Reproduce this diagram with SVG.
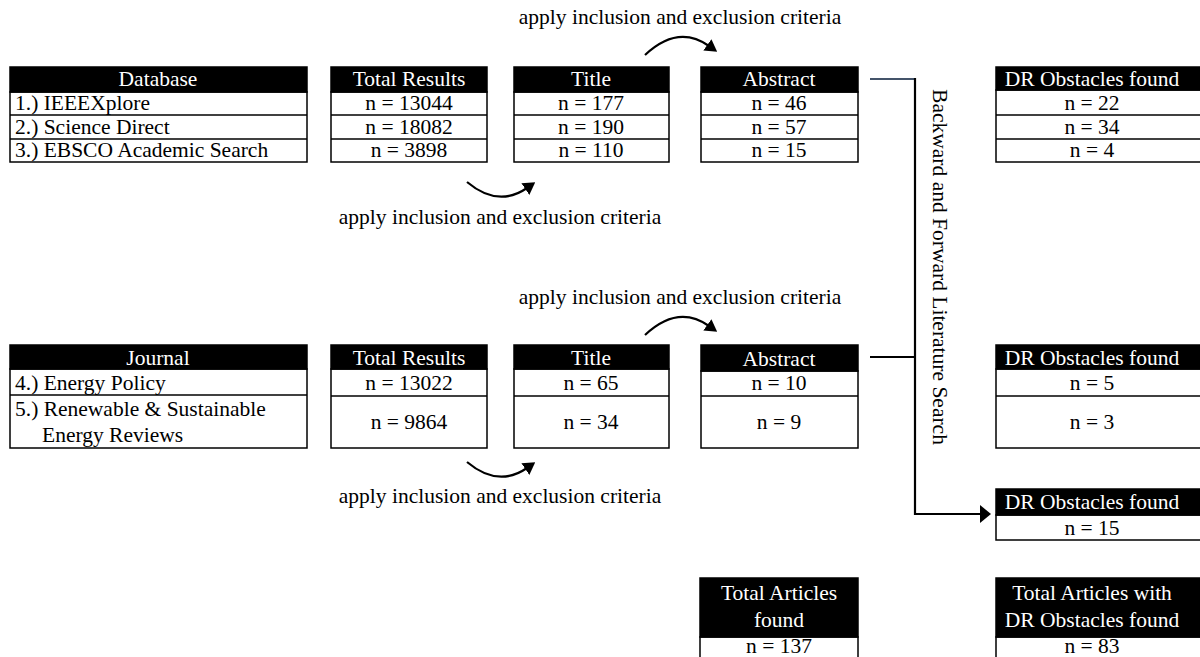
<svg xmlns="http://www.w3.org/2000/svg" width="1200" height="657" viewBox="0 0 1200 657">
<defs>
<style>
text{font-family:"Liberation Serif","Times New Roman",serif;font-size:21.5px;fill:#000}
.h{fill:#000;stroke:#000;stroke-width:1.5}
.c{fill:#fff;stroke:#000;stroke-width:1.5}
.ht{fill:#fff;text-anchor:middle}
.m{text-anchor:middle}
.ln{fill:none;stroke:#000;stroke-width:2.2}
</style>
<marker id="ah" viewBox="0 0 12 14" refX="2" refY="7" markerWidth="12" markerHeight="14" orient="auto" markerUnits="userSpaceOnUse">
<path d="M0,0 L12,7 L0,14 z" fill="#000"/>
</marker>
<marker id="ah2" viewBox="0 0 11 18" refX="1" refY="9" markerWidth="11" markerHeight="18" orient="auto" markerUnits="userSpaceOnUse">
<path d="M0,0 L11,9 L0,18 z" fill="#000"/>
</marker>
</defs>
<rect width="1200" height="657" fill="#fff"/>

<g id="database">
<rect class="c" x="10" y="92" width="297" height="70"/>
<line x1="10" y1="115" x2="307" y2="115" stroke="#000" stroke-width="1.5"/>
<line x1="10" y1="139" x2="307" y2="139" stroke="#000" stroke-width="1.5"/>
<rect class="h" x="10" y="67" width="297" height="25"/>
<text class="ht" x="158" y="86">Database</text>
<text x="15" y="110">1.) IEEEXplore</text>
<text x="15" y="134">2.) Science Direct</text>
<text x="15" y="157">3.) EBSCO Academic Search</text>
</g>

<g id="total1">
<rect class="c" x="331" y="92" width="156" height="70"/>
<line x1="331" y1="115" x2="487" y2="115" stroke="#000" stroke-width="1.5"/>
<line x1="331" y1="139" x2="487" y2="139" stroke="#000" stroke-width="1.5"/>
<rect class="h" x="331" y="67" width="156" height="25"/>
<text class="ht" x="409" y="86">Total Results</text>
<text class="m" x="409" y="110">n = 13044</text>
<text class="m" x="409" y="134">n = 18082</text>
<text class="m" x="409" y="157">n = 3898</text>
</g>

<g id="title1">
<rect class="c" x="514" y="92" width="155" height="70"/>
<line x1="514" y1="115" x2="669" y2="115" stroke="#000" stroke-width="1.5"/>
<line x1="514" y1="139" x2="669" y2="139" stroke="#000" stroke-width="1.5"/>
<rect class="h" x="514" y="67" width="155" height="25"/>
<text class="ht" x="591" y="86">Title</text>
<text class="m" x="591" y="110">n = 177</text>
<text class="m" x="591" y="134">n = 190</text>
<text class="m" x="591" y="157">n = 110</text>
</g>

<g id="abstract1">
<rect class="c" x="701" y="92" width="157" height="70"/>
<line x1="701" y1="115" x2="858" y2="115" stroke="#000" stroke-width="1.5"/>
<line x1="701" y1="139" x2="858" y2="139" stroke="#000" stroke-width="1.5"/>
<rect class="h" x="701" y="67" width="157" height="25"/>
<text class="ht" x="779" y="86">Abstract</text>
<text class="m" x="779" y="110">n = 46</text>
<text class="m" x="779" y="134">n = 57</text>
<text class="m" x="779" y="157">n = 15</text>
</g>

<g id="dr1">
<rect class="c" x="996" y="90" width="214" height="72"/>
<line x1="996" y1="115" x2="1210" y2="115" stroke="#000" stroke-width="1.5"/>
<line x1="996" y1="139" x2="1210" y2="139" stroke="#000" stroke-width="1.5"/>
<rect class="h" x="996" y="67" width="214" height="23"/>
<text class="ht" x="1092" y="86">DR Obstacles found</text>
<text class="m" x="1092" y="110">n = 22</text>
<text class="m" x="1092" y="134">n = 34</text>
<text class="m" x="1092" y="157">n = 4</text>
</g>

<g id="journal">
<rect class="c" x="10" y="369" width="297" height="79"/>
<line x1="10" y1="395" x2="307" y2="395" stroke="#000" stroke-width="1.5"/>
<rect class="h" x="10" y="345" width="297" height="24"/>
<text class="ht" x="158" y="365">Journal</text>
<text x="15" y="390">4.) Energy Policy</text>
<text x="15" y="416">5.) Renewable &amp; Sustainable</text>
<text x="42" y="442">Energy Reviews</text>
</g>

<g id="total2">
<rect class="c" x="331" y="369" width="156" height="79"/>
<line x1="331" y1="396" x2="487" y2="396" stroke="#000" stroke-width="1.5"/>
<rect class="h" x="331" y="345" width="156" height="24"/>
<text class="ht" x="409" y="365">Total Results</text>
<text class="m" x="409" y="390">n = 13022</text>
<text class="m" x="409" y="429">n = 9864</text>
</g>

<g id="title2">
<rect class="c" x="514" y="369" width="155" height="79"/>
<line x1="514" y1="396" x2="669" y2="396" stroke="#000" stroke-width="1.5"/>
<rect class="h" x="514" y="345" width="155" height="24"/>
<text class="ht" x="591" y="365">Title</text>
<text class="m" x="591" y="390">n = 65</text>
<text class="m" x="591" y="429">n = 34</text>
</g>

<g id="abstract2">
<rect class="c" x="701" y="371" width="157" height="77"/>
<line x1="701" y1="396" x2="858" y2="396" stroke="#000" stroke-width="1.5"/>
<rect class="h" x="701" y="345" width="157" height="26"/>
<text class="ht" x="779" y="366">Abstract</text>
<text class="m" x="779" y="390">n = 10</text>
<text class="m" x="779" y="429">n = 9</text>
</g>

<g id="dr2">
<rect class="c" x="996" y="369" width="214" height="79"/>
<line x1="996" y1="396" x2="1210" y2="396" stroke="#000" stroke-width="1.5"/>
<rect class="h" x="996" y="345" width="214" height="24"/>
<text class="ht" x="1092" y="365">DR Obstacles found</text>
<text class="m" x="1092" y="390">n = 5</text>
<text class="m" x="1092" y="429">n = 3</text>
</g>

<g id="dr3">
<rect class="c" x="996" y="515" width="214" height="25"/>
<rect class="h" x="996" y="489" width="214" height="26"/>
<text class="ht" x="1092" y="509">DR Obstacles found</text>
<text class="m" x="1092" y="535">n = 15</text>
</g>

<g id="totalArticles">
<rect class="c" x="700" y="637" width="158" height="30"/>
<rect class="h" x="700" y="578" width="158" height="59"/>
<text class="ht" x="779" y="600">Total Articles</text>
<text class="ht" x="779" y="627">found</text>
<text class="m" x="779" y="653">n = 137</text>
</g>

<g id="totalDR">
<rect class="c" x="996" y="637" width="214" height="30"/>
<rect class="h" x="996" y="578" width="214" height="59"/>
<text class="ht" x="1092" y="600">Total Articles with</text>
<text class="ht" x="1092" y="627">DR Obstacles found</text>
<text class="m" x="1092" y="653">n = 83</text>
</g>

<g id="labels">
<text class="m" x="680" y="24">apply inclusion and exclusion criteria</text>
<text class="m" x="500" y="224">apply inclusion and exclusion criteria</text>
<text class="m" x="680" y="304">apply inclusion and exclusion criteria</text>
<text class="m" x="500" y="503">apply inclusion and exclusion criteria</text>
<text class="m" transform="translate(933,267) rotate(90)">Backward and Forward Literature Search</text>
</g>

<g id="connectors">
<path class="ln" d="M645,55 Q678,24 709,46" marker-end="url(#ah)"/>
<path class="ln" d="M467,182 Q498,208 527,188" marker-end="url(#ah)"/>
<path class="ln" d="M645,335 Q678,304 709,326" marker-end="url(#ah)"/>
<path class="ln" d="M467,462 Q498,488 527,468" marker-end="url(#ah)"/>
<line x1="870" y1="79" x2="915" y2="79" stroke="#44546A" stroke-width="2"/>
<line x1="870" y1="357" x2="915" y2="357" stroke="#000" stroke-width="2"/>
<path class="ln" d="M915,78 V514 H981" marker-end="url(#ah2)"/>
</g>
</svg>
